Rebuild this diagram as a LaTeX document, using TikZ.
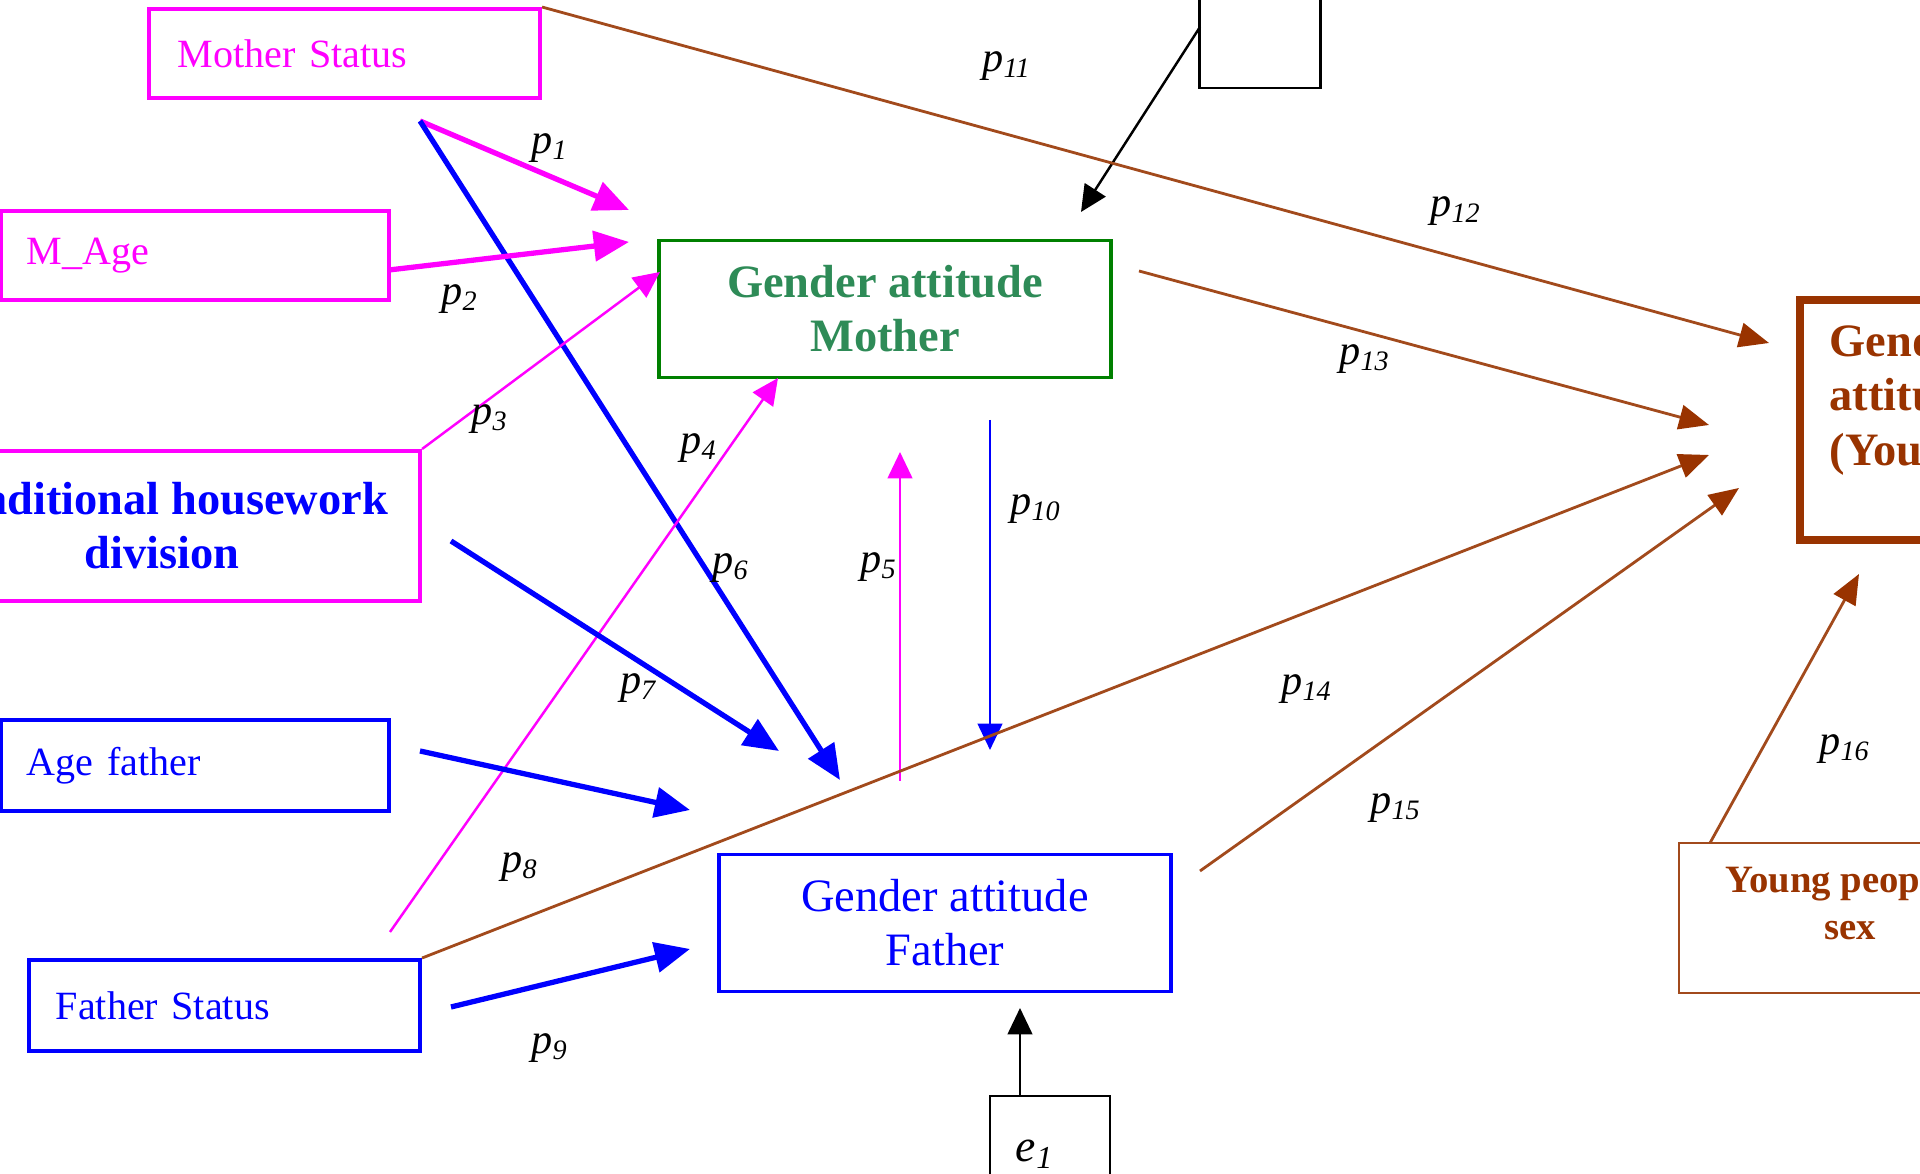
\documentclass[tikz,border=0pt]{standalone}
\usepackage{fontspec}
\setmainfont{Liberation Serif}
\usetikzlibrary{arrows.meta}
\definecolor{mag}{HTML}{FF00FF}
\definecolor{blu}{HTML}{0000FF}
\definecolor{grnb}{HTML}{008000}
\definecolor{grnt}{HTML}{2E8B57}
\definecolor{brn}{HTML}{993300}
\definecolor{brnl}{HTML}{A24A1C}
\newcommand\plab[1]{\textit{p}\textsubscript{\textit{#1}}}
\newcommand\fReg{\fontsize{11.4}{13.5}\selectfont}
\newcommand\fBig{\fontsize{13.2}{15.4}\selectfont}
\begin{document}
\begin{tikzpicture}[x=0.01cm,y=-0.01cm,
  box/.style={draw,rectangle,inner sep=0pt,line width=1.1pt},
  thinbox/.style={draw,rectangle,inner sep=0pt,line width=0.7pt},
  lbl/.style={font=\fontsize{12}{14}\selectfont,inner sep=0pt},
  bigarr/.style={line width=1.5pt,-{Triangle[length=10pt,width=8.5pt]}},
  smallarr/.style={line width=0.7pt,-{Triangle[length=7.5pt,width=7pt]}},
  brarr/.style={line width=0.8pt,draw=brnl,-{Triangle[length=8.5pt,width=7pt,color=brn]}}
]
\useasboundingbox (0,0) rectangle (1920,1174);
\clip (0,0) rectangle (1920,1174);

% boxes
\node[box,draw=mag,text=mag,minimum width=3.91cm,minimum height=0.89cm,text width=3.33cm,align=left,inner xsep=0.29cm,font=\fReg] (ms) at (344.5,53.5) {Mother Status};
\node[box,draw=mag,text=mag,minimum width=3.88cm,minimum height=0.89cm,text width=3.36cm,align=left,inner xsep=0.26cm,font=\fReg] (ma) at (195,255.5) {M\_Age};
\node[box,draw=mag,text=blu,minimum width=5.16cm,minimum height=1.50cm,align=center,font=\fBig\bfseries] (hw) at (162,526) {Traditional housework\\division};
\node[box,draw=blu,text=blu,minimum width=3.88cm,minimum height=0.91cm,text width=3.36cm,align=left,inner xsep=0.26cm,font=\fReg] (af) at (195,765.5) {Age father};
\node[box,draw=blu,text=blu,minimum width=3.91cm,minimum height=0.91cm,text width=3.37cm,align=left,inner xsep=0.27cm,font=\fReg] (fs) at (224.5,1005.5) {Father Status};
\node[box,draw=grnb,text=grnt,minimum width=4.51cm,minimum height=1.37cm,align=center,font=\fBig\bfseries] (gm) at (885,309) {Gender attitude\\Mother};
\node[box,draw=blu,text=blu,minimum width=4.52cm,minimum height=1.37cm,align=center,font=\fBig] (gf) at (945,923) {Gender attitude\\Father};
\node[thinbox,minimum width=1.21cm,minimum height=1.16cm] (e2) at (1260,30) {};
\node[thinbox,minimum width=1.20cm,minimum height=1.16cm,text width=0.68cm,inner xsep=0.26cm,align=left,font=\fontsize{13}{15}\selectfont] (e1) at (1050,1154) {\textit{e}\textsubscript{\textit{1}}};
\node[box,draw=brn,line width=2.3pt,minimum width=2.30cm,minimum height=2.40cm] (gy) at (1915,420) {};
\node[anchor=west,align=left,text=brn,font=\fBig\bfseries,inner sep=0pt] (gyt) at (1829,400) {Gender\\attitude\\(Young people)};
\node[thinbox,draw=brnl,minimum width=3.42cm,minimum height=1.50cm] (ys) at (1850,918) {};
\node[align=center,text=brn,font=\fontsize{11}{13.4}\selectfont\bfseries,inner sep=0pt] (yst) at (1850,903) {Young people's\\sex};

% free ends
\coordinate (p1s) at (420,121);
\coordinate (p1e) at (629,210);
\coordinate (p2s) at (389,270);
\coordinate (p2e) at (629,242);
\coordinate (p3e) at (660,272);
\coordinate (p4s) at (390,932);
\coordinate (p4e) at (778,378);
\coordinate (p5s) at (900,781);
\coordinate (p5e) at (900,452);
\coordinate (p6e) at (840,780);
\coordinate (p7s) at (451,541);
\coordinate (p7e) at (779,751);
\coordinate (p8s) at (420,751);
\coordinate (p8e) at (690,810);
\coordinate (p9s) at (451,1007);
\coordinate (p9e) at (690,949);
\coordinate (p10s) at (990,420);
\coordinate (p10e) at (990,750);
\coordinate (e2s) at (1200,27);
\coordinate (e2e) at (1081,212);
\coordinate (p12e) at (1769,343);
\coordinate (p13s) at (1139,271);
\coordinate (p13e) at (1709,425);
\coordinate (p14e) at (1709,455);
\coordinate (p15s) at (1200,871);
\coordinate (p15e) at (1739,488);
\coordinate (p16s) at (1710,843);
\coordinate (p16e) at (1859,574);
\coordinate (e1s) at (1020,1096);
\coordinate (e1e) at (1020,1008);

% magenta / blue arrows
\draw[bigarr,mag] (p1s) -- (p1e);
\draw[bigarr,blu] (p1s) -- (p6e);
\draw[bigarr,mag] (p2s) -- (p2e);
\draw[smallarr,mag] (hw.north east) -- (p3e);
\draw[smallarr,mag] (p4s) -- (p4e);
\draw[smallarr,mag] (p5s) -- (p5e);
\draw[bigarr,blu] (p7s) -- (p7e);
\draw[bigarr,blu] (p8s) -- (p8e);
\draw[bigarr,blu] (p9s) -- (p9e);
\draw[smallarr,blu] (p10s) -- (p10e);
\draw[smallarr,black] (e2s) -- (e2e);
\draw[smallarr,black] (e1s) -- (e1e);

% brown arrows
\draw[brarr] (ms.north east) -- (p12e);
\draw[brarr] (p13s) -- (p13e);
\draw[brarr] (fs.north east) -- (p14e);
\draw[brarr] (p15s) -- (p15e);
\draw[brarr] (p16s) -- (p16e);

% labels
\node[lbl] (l1) at (550,148) {\plab{1}};
\node[lbl] (l2) at (460,299) {\plab{2}};
\node[lbl] (l3) at (490,419) {\plab{3}};
\node[lbl] (l4) at (699,448) {\plab{4}};
\node[lbl] (l5) at (879,567) {\plab{5}};
\node[lbl] (l6) at (731,568) {\plab{6}};
\node[lbl] (l7) at (639,688) {\plab{7}};
\node[lbl] (l8) at (520,867) {\plab{8}};
\node[lbl] (l9) at (550,1048) {\plab{9}};
\node[lbl] (l10) at (1036,509) {\plab{10}};
\node[lbl] (l11) at (1007,66) {\plab{11}};
\node[lbl] (l12) at (1456,211) {\plab{12}};
\node[lbl] (l13) at (1365,359) {\plab{13}};
\node[lbl] (l14) at (1307,689) {\plab{14}};
\node[lbl] (l15) at (1396,808) {\plab{15}};
\node[lbl] (l16) at (1845,749) {\plab{16}};
\end{tikzpicture}
\end{document}
